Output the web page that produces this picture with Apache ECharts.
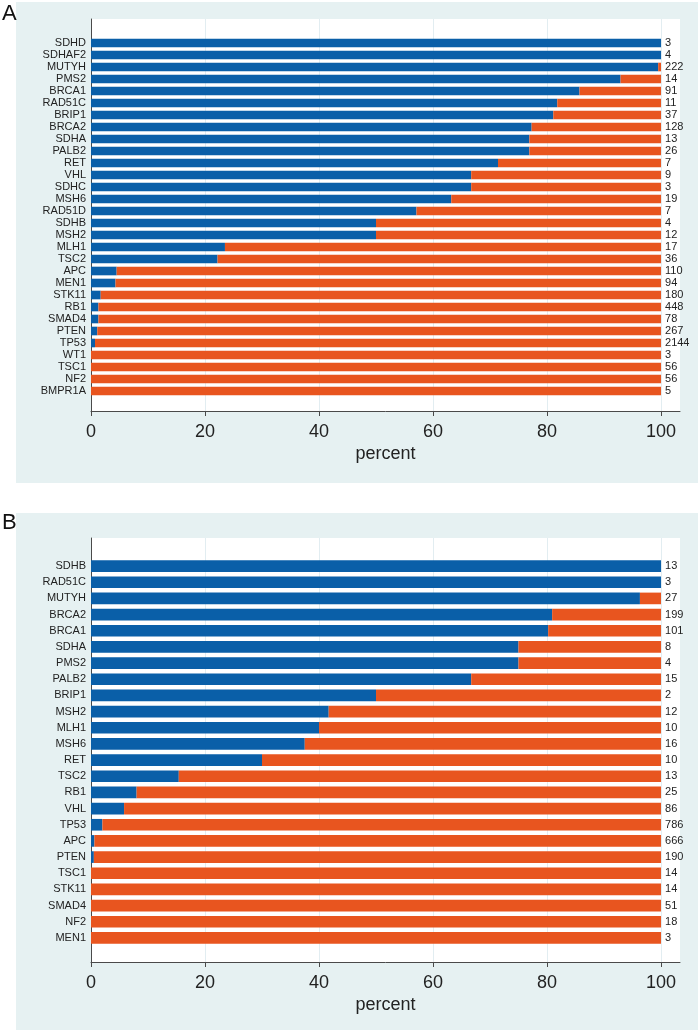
<!DOCTYPE html>
<html><head><meta charset="utf-8">
<script src="https://cdn.jsdelivr.net/npm/echarts@6/dist/echarts.min.js"></script>
<style>html,body{margin:0;padding:0;background:#fff}#c{width:698px;height:1034px}</style>
</head><body><div id="c"></div>
<script>
// ---- Panel A data ----
const catsA = ['SDHD','SDHAF2','MUTYH','PMS2','BRCA1','RAD51C','BRIP1','BRCA2','SDHA','PALB2','RET','VHL','SDHC','MSH6','RAD51D','SDHB','MSH2','MLH1','TSC2','APC','MEN1','STK11','RB1','SMAD4','PTEN','TP53','WT1','TSC1','NF2','BMPR1A'];
const blueA = [100,100,99.5,92.9,85.7,81.8,81.1,77.3,76.9,76.9,71.4,66.7,66.7,63.2,57.1,50,50,23.5,22.2,4.5,4.3,1.7,1.3,1.3,1.1,0.7,0,0,0,0];
const orangeA = [0,0,0.5,7.1,14.3,18.2,18.9,22.7,23.1,23.1,28.6,33.3,33.3,36.8,42.9,50,50,76.5,77.8,95.5,95.7,98.3,98.7,98.7,98.9,99.3,100,100,100,100];
const countsA = [3,4,222,14,91,11,37,128,13,26,7,9,3,19,7,4,12,17,36,110,94,180,448,78,267,2144,3,56,56,5];

// ---- Panel B data ----
const catsB = ['SDHB','RAD51C','MUTYH','BRCA2','BRCA1','SDHA','PMS2','PALB2','BRIP1','MSH2','MLH1','MSH6','RET','TSC2','RB1','VHL','TP53','APC','PTEN','TSC1','STK11','SMAD4','NF2','MEN1'];
const blueB = [100,100,96.3,80.9,80.2,75,75,66.7,50,41.7,40,37.5,30,15.4,8,5.8,2.0,0.6,0.5,0,0,0,0,0];
const orangeB = [0,0,3.7,19.1,19.8,25,25,33.3,50,58.3,60,62.5,70,84.6,92,94.2,98,99.4,99.5,100,100,100,100,100];
const countsB = [13,3,27,199,101,8,4,15,2,12,10,16,10,13,25,86,786,666,190,14,14,51,18,3];

// ---- axis ticks ----
const xTicks = [0,20,40,60,80,100];
const xAxisName = 'percent';
const panelLabels = ['A','B'];

const FONT = '"Liberation Sans Narrow","Liberation Sans",Arial,sans-serif';
const BLUE = '#0a5fa8', ORANGE = '#e8551f', BG = '#e6f1f2', AXIS = '#4a4a4a', GRIDC = '#e2edf1';
const X_MAX = 103.33;

const layouts = [
  {frameTop:19, frameBottom:411, bandTop:37, bandBottom:397, bgTop:2, bgBottom:483, labelTop:3},
  {frameTop:538, frameBottom:962, bandTop:558, bandBottom:946, bgTop:513, bgBottom:1030, labelTop:512}
];
const panels = [
  {cats:catsA, blue:blueA, orange:orangeA, counts:countsA},
  {cats:catsB, blue:blueB, orange:orangeB, counts:countsB}
];
const LEFT = 91, RIGHT = 698-680;

const grid = [], xAxis = [], yAxis = [], series = [], graphic = [];
panels.forEach((p, i) => {
  const L = layouts[i];
  const gf = grid.length;
  grid.push({left:LEFT, right:RIGHT, top:L.frameTop, height:L.frameBottom-L.frameTop, show:true, backgroundColor:'#fff', borderWidth:0});
  grid.push({left:LEFT, right:RIGHT, top:L.bandTop, height:L.bandBottom-L.bandTop, show:false});
  xAxis.push({gridIndex:gf, type:'value', min:0, max:X_MAX,
    axisLine:{show:true, lineStyle:{color:AXIS, width:1}},
    axisTick:{show:true, customValues:xTicks, length:5, lineStyle:{color:AXIS}},
    axisLabel:{show:true, customValues:xTicks, fontSize:18, color:'#222', margin:12, fontFamily:FONT},
    splitLine:{show:true, lineStyle:{color:GRIDC, width:1}},
    name:xAxisName, nameLocation:'middle', nameGap:34,
    nameTextStyle:{fontSize:18, color:'#222', fontFamily:FONT}});
  yAxis.push({gridIndex:gf, type:'value', min:0, max:1,
    axisLine:{show:true, lineStyle:{color:AXIS, width:1}},
    axisTick:{show:false}, axisLabel:{show:false}, splitLine:{show:false}});
  xAxis.push({gridIndex:gf+1, type:'value', min:0, max:X_MAX, show:false});
  yAxis.push({gridIndex:gf+1, type:'category', data:p.cats, inverse:true,
    axisLine:{show:false}, axisTick:{show:false}, splitLine:{show:false},
    axisLabel:{interval:0, fontSize:11, color:'#222', margin:5, fontFamily:FONT}});
  series.push({type:'bar', xAxisIndex:gf+1, yAxisIndex:gf+1, stack:'s'+i, data:p.blue,
    barCategoryGap:'28%', itemStyle:{color:BLUE}, silent:true});
  series.push({type:'bar', xAxisIndex:gf+1, yAxisIndex:gf+1, stack:'s'+i, data:p.orange,
    barCategoryGap:'28%', itemStyle:{color:ORANGE}, silent:true,
    label:{show:true, position:'right', distance:4, fontSize:11, color:'#222', fontFamily:FONT,
      formatter:(prm)=>String(p.counts[prm.dataIndex])}});
  graphic.push({type:'rect', z:-10, shape:{x:16, y:L.bgTop, width:682, height:L.bgBottom-L.bgTop}, style:{fill:BG}});
  graphic.push({type:'text', z:10, left:2, top:L.labelTop, style:{text:panelLabels[i], fontSize:22, fill:'#111', fontFamily:'"Liberation Sans",Arial,sans-serif'}});
});

const chart = echarts.init(document.getElementById('c'), null, {renderer:'canvas'});
chart.setOption({animation:false, backgroundColor:'#fff', grid, xAxis, yAxis, series, graphic});
</script></body></html>
